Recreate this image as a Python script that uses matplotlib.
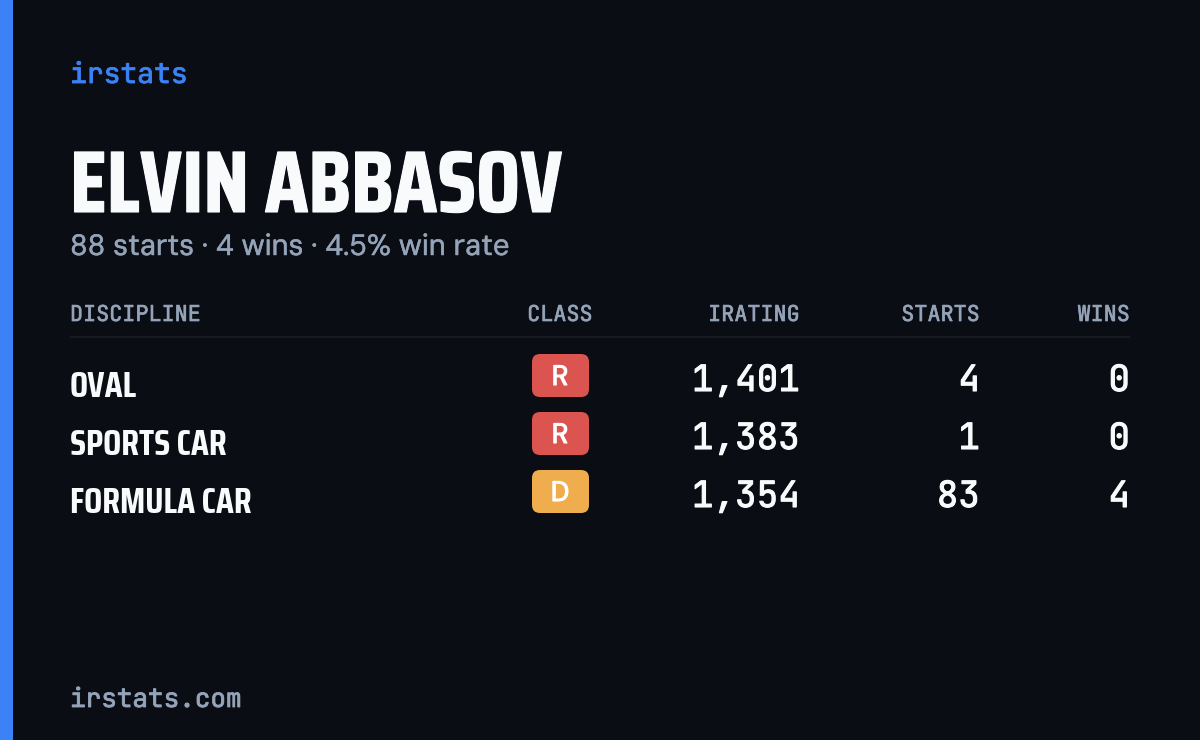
import matplotlib
import matplotlib.patheffects as pe
import matplotlib.pyplot as plt
from matplotlib.patches import FancyBboxPatch, Rectangle

matplotlib.use('Agg')

# Data
brand = "irstats"
footer = "irstats.com"
driver_name = "ELVIN ABBASOV"
summary = "88 starts · 4 wins · 4.5% win rate"
headers = ["DISCIPLINE", "CLASS", "IRATING", "STARTS", "WINS"]
disciplines = ["OVAL", "SPORTS CAR", "FORMULA CAR"]
classes = ["R", "R", "D"]
iratings = [1401, 1383, 1354]
starts = [4, 1, 83]
wins = [0, 0, 4]

BG = '#0a0d14'
BLUE = '#3b82f6'
GREY = '#94a3b8'
WHITE = '#f8fafc'
CLASS_COLORS = {"R": '#dc5450', "D": '#f0ad4e'}

NARROW = ['Saira Condensed', 'Barlow Condensed', 'DejaVu Sans']
MONO = ['JetBrains Mono', 'DejaVu Sans Mono']
SANS = ['DM Sans', 'Inter', 'DejaVu Sans']


def px(size):
    return size * 0.72


# variable fonts only load at their default weight, so thicken with a stroke
def heavier(color, width):
    return [pe.withStroke(linewidth=width, foreground=color)]


fig = plt.figure(figsize=(12, 7.4), dpi=100, facecolor=BG)
ax = fig.add_axes([0, 0, 1, 1])
ax.set_xlim(0, 1200)
ax.set_ylim(740, 0)
ax.axis('off')

# left accent bar
ax.add_patch(Rectangle((0, 0), 13, 740, color=BLUE, lw=0))

ax.text(70, 83, brand, color=BLUE, fontsize=px(28), family=MONO, va='baseline',
        path_effects=heavier(BLUE, 0.6))
ax.text(70, 212, driver_name, color=WHITE, fontsize=px(87.3), family=NARROW,
        weight='bold', va='baseline', path_effects=heavier(WHITE, 0.8))
ax.text(70, 255, summary, color=GREY, fontsize=px(29.2), family=SANS, va='baseline',
        path_effects=heavier(GREY, 0.35))
ax.text(70, 707, footer, color=GREY, fontsize=px(26), family=MONO, va='baseline',
        path_effects=heavier(GREY, 0.6))

# header row
header_x = [70, 560, 800, 980, 1130]
header_ha = ['left', 'center', 'right', 'right', 'right']
for label, x, ha in zip(headers, header_x, header_ha):
    ax.text(x, 321, label, color=GREY, fontsize=px(21.8), family=MONO, ha=ha,
            va='baseline', path_effects=heavier(GREY, 0.5))
ax.plot([70, 1130], [337, 337], color='#161a24', lw=1.5, solid_capstyle='butt')

# table rows
row_h = 58
for i in range(len(disciplines)):
    y = 354 + i * row_h
    ax.text(70, y + 43, disciplines[i], color=WHITE, fontsize=px(36), family=NARROW,
            weight='bold', va='baseline')
    ax.add_patch(FancyBboxPatch((532 + 8, y + 8), 57 - 16, 43 - 16,
                                boxstyle='round,pad=8,rounding_size=8',
                                fc=CLASS_COLORS[classes[i]], ec='none', lw=0))
    ax.text(560, y + 31, classes[i], color='white', fontsize=px(28), family=SANS,
            ha='center', va='baseline', path_effects=heavier('white', 0.8))
    row_values = [f"{iratings[i]:,}", str(starts[i]), str(wins[i])]
    for value, x in zip(row_values, header_x[2:]):
        ax.text(x, y + 37, value, color=WHITE, fontsize=px(36), family=MONO,
                ha='right', va='baseline', path_effects=heavier(WHITE, 0.8))

fig.savefig('out.png', dpi=100, facecolor=BG)
